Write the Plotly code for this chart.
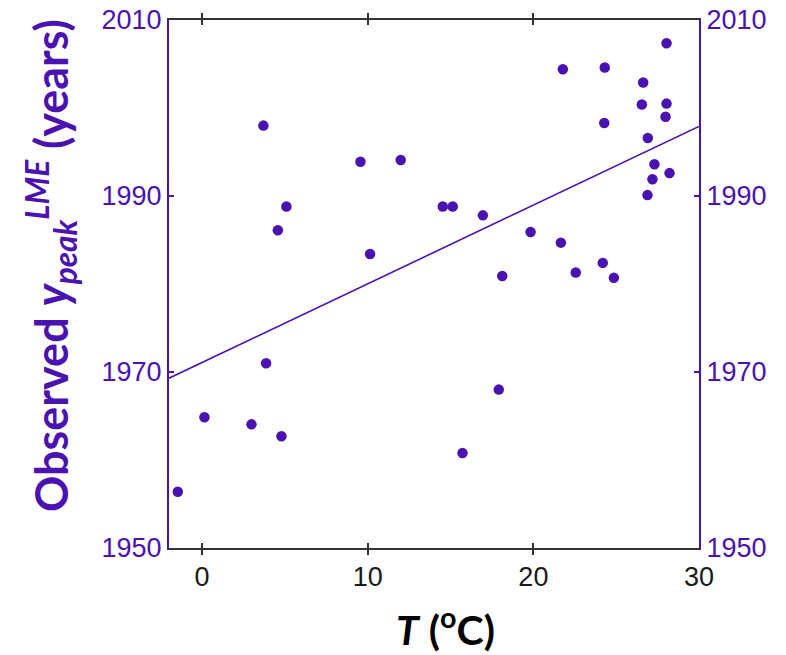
import plotly.graph_objects as go

# Mean temperature (°C) and observed peak year for each large marine ecosystem
temperature = [3.70, 9.56, 11.99, 5.09, 4.57, 10.14,
               28.04, 21.78, 24.31, 26.63, 26.55, 28.04, 27.98, 24.28, 26.91,
               27.31, 28.22, 27.19, 26.89, 14.53, 15.13, 16.95, 19.83, 21.66,
               18.12, 22.56, 24.19, 24.86, 17.91, 15.72,
               3.86, 0.14, 2.98, 4.79, -1.47]
peak_year = [1998.0, 1993.9, 1994.1, 1988.8, 1986.1, 1983.4,
             2007.35, 2004.4, 2004.6, 2002.9, 2000.4, 2000.5, 1999.0, 1998.3, 1996.6,
             1993.6, 1992.6, 1991.9, 1990.1, 1988.8, 1988.8, 1987.8, 1985.9, 1984.7,
             1980.9, 1981.3, 1982.4, 1980.7, 1968.0, 1960.8,
             1971.0, 1964.85, 1964.05, 1962.7, 1956.4]

# Linear trend endpoints
fit_T = [-2, 30]
fit_year = [1969.3, 1997.9]

x_ticks = [0, 10, 20, 30]
y_ticks = [1950, 1970, 1990, 2010]

PURPLE = "#4B12B2"
DARK = "#333333"
TICK_FONT = dict(family="Liberation Sans, Arial, sans-serif", size=27)

fig = go.Figure()
fig.add_trace(go.Scatter(
    x=temperature, y=peak_year, mode="markers",
    marker=dict(color=PURPLE, size=10.5, line=dict(width=0)),
    showlegend=False, hoverinfo="x+y"))
fig.add_trace(go.Scatter(
    x=fit_T, y=fit_year, mode="lines", yaxis="y2",
    line=dict(color=PURPLE, width=1.6),
    showlegend=False))

fig.update_layout(
    width=786, height=655,
    margin=dict(l=169, r=87, t=20, b=107),
    paper_bgcolor="white", plot_bgcolor="white",
    xaxis=dict(
        range=[-2, 30], tickvals=x_ticks, ticktext=[str(v) for v in x_ticks],
        ticks="inside", ticklen=5, tickwidth=1.5, tickcolor=DARK,
        showline=True, linecolor=DARK, linewidth=2, mirror="allticks",
        showgrid=False, zeroline=False, automargin=False,
        tickfont=dict(color="#1a1a1a", **TICK_FONT), ticklabelstandoff=4),
    yaxis=dict(
        range=[1950, 2010], tickvals=y_ticks, ticktext=[str(v) for v in y_ticks],
        ticks="inside", ticklen=5, tickwidth=1.5, tickcolor=PURPLE,
        showline=True, linecolor=PURPLE, linewidth=2,
        showgrid=False, zeroline=False, automargin=False,
        tickfont=dict(color=PURPLE, **TICK_FONT)),
    yaxis2=dict(
        range=[1950, 2010], tickvals=y_ticks, ticktext=[str(v) for v in y_ticks],
        overlaying="y", side="right",
        ticks="inside", ticklen=5, tickwidth=1.5, tickcolor=PURPLE,
        showline=True, linecolor=PURPLE, linewidth=2,
        showgrid=False, zeroline=False, automargin=False,
        tickfont=dict(color=PURPLE, **TICK_FONT)),
    annotations=[
        dict(text="<b>Observed <i>y</i><sub><i>peak</i></sub><sup><i>LME</i></sup> (years)</b>",
             xref="paper", yref="paper", x=0, y=0.534, xshift=-118,
             xanchor="center", yanchor="middle", textangle=-90, showarrow=False,
             font=dict(family="Lato, Open Sans, sans-serif", size=45, color=PURPLE)),
        dict(text="<b><i>T</i> (<sup>o</sup>C)</b>",
             xref="paper", yref="paper", x=0.521, y=0, yshift=-79,
             xanchor="center", yanchor="middle", showarrow=False,
             font=dict(family="Lato, Open Sans, sans-serif", size=41, color="black")),
    ],
)

fig.write_html("out.html")
